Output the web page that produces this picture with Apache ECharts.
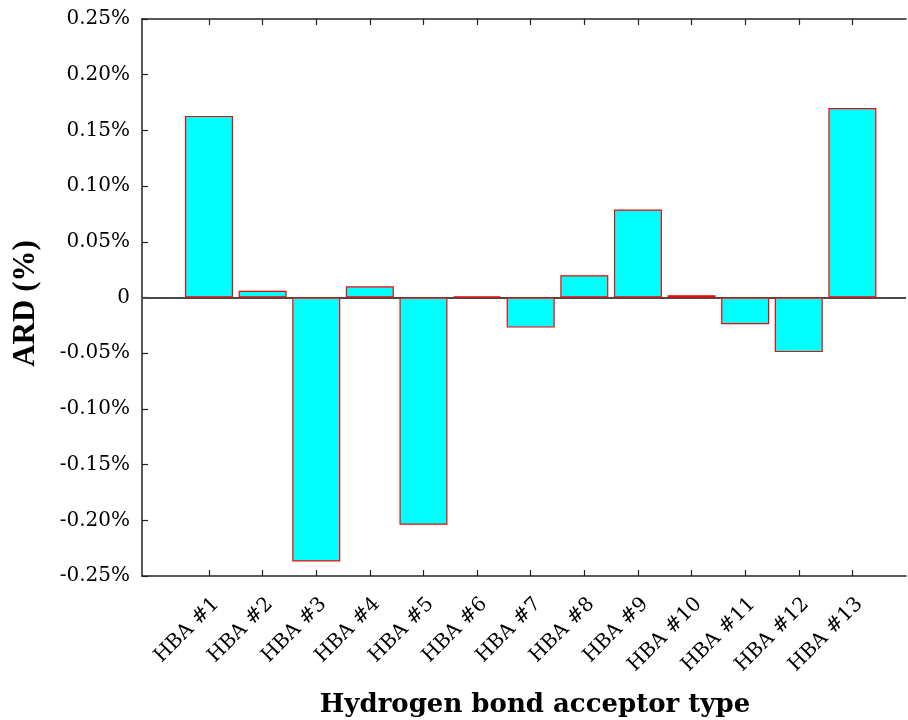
<!DOCTYPE html>
<html>
<head>
<meta charset="utf-8">
<script src="https://cdn.jsdelivr.net/npm/echarts@6/dist/echarts.min.js"></script>
<style>
  html, body { margin: 0; padding: 0; background: #fff; }
  #chart { width: 908px; height: 720px; }
</style>
</head>
<body>
<div id="chart"></div>
<script>
// Hydrogen bond acceptor types and their ARD values (in %)
const categories = ['HBA #1', 'HBA #2', 'HBA #3', 'HBA #4', 'HBA #5', 'HBA #6', 'HBA #7',
                    'HBA #8', 'HBA #9', 'HBA #10', 'HBA #11', 'HBA #12', 'HBA #13'];
const ardValues = [0.163, 0.006, -0.237, 0.010, -0.204, 0.001, -0.027,
                   0.020, 0.079, 0.002, -0.024, -0.049, 0.170];
const yTicks = [-0.25, -0.20, -0.15, -0.10, -0.05, 0, 0.05, 0.10, 0.15, 0.20, 0.25];

// Bars sit at positions 1..N on a numeric x axis
const positions = categories.map((_, i) => i + 1);
const barData = ardValues.map((v, i) => [positions[i], v]);

const serif = '"DejaVu Serif", serif';
const axisLineStyle = { color: '#222', width: 1.5 };

const chart = echarts.init(document.getElementById('chart'), null, { renderer: 'canvas' });
chart.setOption({
  animation: false,
  backgroundColor: '#fff',
  grid: { left: 142, right: 2, top: 19, bottom: 144, containLabel: false, outerBoundsMode: 'none' },
  xAxis: [
    {
      type: 'value',
      position: 'bottom',
      min: -0.25,
      max: 14,
      name: 'Hydrogen bond acceptor type',
      nameLocation: 'middle',
      nameGap: 116,
      nameTextStyle: { fontFamily: serif, fontWeight: 'bold', fontSize: 26, color: '#000', padding: [0, 0, 0, 22] },
      axisLine: { show: true, onZero: false, lineStyle: axisLineStyle },
      axisTick: { show: true, inside: true, length: 6, customValues: positions, lineStyle: { color: '#222', width: 1.2 } },
      axisLabel: {
        customValues: positions,
        rotate: 45,
        margin: 18,
        verticalAlign: 'top',
        fontFamily: serif,
        fontSize: 20,
        color: '#000',
        formatter: v => categories[Math.round(v) - 1] || ''
      },
      splitLine: { show: false }
    },
    {
      type: 'value',
      position: 'top',
      min: -0.25,
      max: 14,
      axisLine: { show: true, onZero: false, lineStyle: axisLineStyle },
      axisTick: { show: true, inside: true, length: 6, customValues: positions, lineStyle: { color: '#222', width: 1.2 } },
      axisLabel: { show: false },
      splitLine: { show: false }
    }
  ],
  yAxis: {
    type: 'value',
    min: -0.25,
    max: 0.25,
    interval: 0.05,
    name: 'ARD (%)',
    nameLocation: 'middle',
    nameGap: 101,
    nameRotate: 90,
    nameTextStyle: { fontFamily: '"Liberation Serif", serif', fontWeight: 'bold', fontSize: 31, color: '#000', padding: [0, 12, 0, 0] },
    axisLine: { show: true, onZero: false, lineStyle: axisLineStyle },
    axisTick: { show: true, inside: true, length: 6, lineStyle: { color: '#222', width: 1.2 } },
    axisLabel: {
      margin: 12,
      fontFamily: serif,
      fontSize: 20,
      color: '#000',
      customValues: yTicks,
      formatter: v => Math.abs(v) < 1e-9 ? '0' : v.toFixed(2) + '%'
    },
    splitLine: { show: false }
  },
  series: [
    {
      type: 'bar',
      xAxisIndex: 0,
      data: barData,
      barWidth: 48,
      itemStyle: { color: '#00ffff', borderColor: '#ff0000', borderWidth: 1.2 },
      markLine: {
        silent: true,
        symbol: 'none',
        label: { show: false },
        lineStyle: { color: '#4a4a4a', width: 2, type: 'solid' },
        data: [{ yAxis: 0 }],
        z: 1
      }
    }
  ]
});
</script>
</body>
</html>
